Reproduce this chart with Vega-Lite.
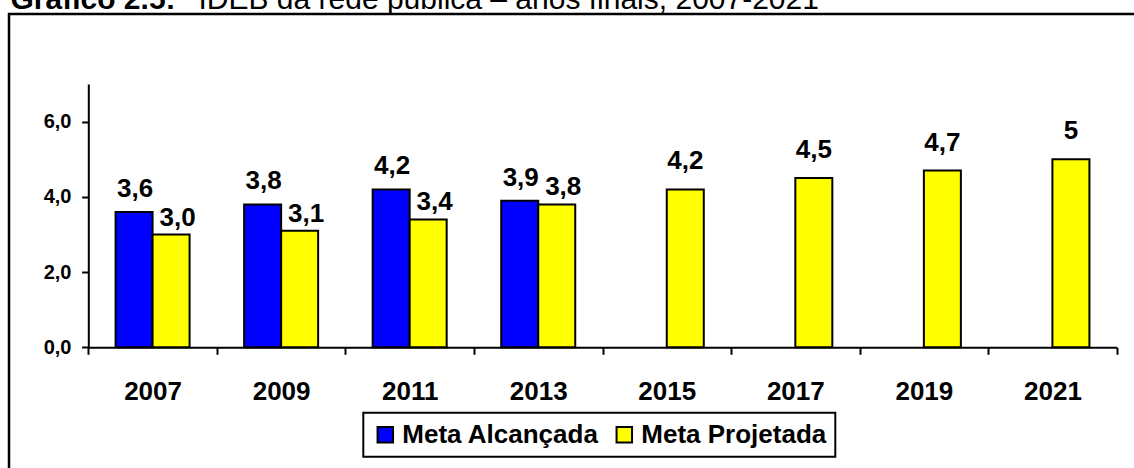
{
  "$schema": "https://vega.github.io/schema/vega-lite/v6.json",
  "width": 1135,
  "height": 464,
  "autosize": "none",
  "padding": {"left": 9, "top": 14, "right": -10, "bottom": -10},
  "background": "white",
  "config": {
    "font": "Liberation Sans",
    "view": {"stroke": "black", "strokeWidth": 2.5, "fill": "white"},
    "legend": {"strokeWidth": 2}
  },
  "data": {
    "values": [
      {"ano": "2007", "serie": "Meta Alcançada", "valor": 3.6, "rotulo": "3,6"},
      {"ano": "2007", "serie": "Meta Projetada", "valor": 3.0, "rotulo": "3,0"},
      {"ano": "2009", "serie": "Meta Alcançada", "valor": 3.8, "rotulo": "3,8"},
      {"ano": "2009", "serie": "Meta Projetada", "valor": 3.1, "rotulo": "3,1"},
      {"ano": "2011", "serie": "Meta Alcançada", "valor": 4.2, "rotulo": "4,2"},
      {"ano": "2011", "serie": "Meta Projetada", "valor": 3.4, "rotulo": "3,4"},
      {"ano": "2013", "serie": "Meta Alcançada", "valor": 3.9, "rotulo": "3,9"},
      {"ano": "2013", "serie": "Meta Projetada", "valor": 3.8, "rotulo": "3,8"},
      {"ano": "2015", "serie": "Meta Projetada", "valor": 4.2, "rotulo": "4,2"},
      {"ano": "2017", "serie": "Meta Projetada", "valor": 4.5, "rotulo": "4,5"},
      {"ano": "2019", "serie": "Meta Projetada", "valor": 4.7, "rotulo": "4,7"},
      {"ano": "2021", "serie": "Meta Projetada", "valor": 5.0, "rotulo": "5"}
    ]
  },
  "encoding": {
    "x": {
      "field": "ano",
      "type": "nominal",
      "sort": null,
      "scale": {"range": [79.3, 1107.7], "paddingInner": 0, "paddingOuter": 0},
      "axis": {
        "orient": "bottom",
        "offset": -130.7,
        "tickBand": "extent",
        "labelAngle": 0,
        "labelFontSize": 26,
        "labelFontWeight": "bold",
        "labelColor": "black",
        "labelPadding": 24,
        "tickSize": 7,
        "tickWidth": 2,
        "tickColor": "black",
        "domainColor": "black",
        "domainWidth": 2,
        "grid": false,
        "title": "IDEB da rede pública – anos finais, 2007-2021",
        "titleAngle": 0,
        "titleAlign": "left",
        "titleBaseline": "alphabetic",
        "titleX": 189,
        "titleY": -338.8,
        "titleFontSize": 30,
        "titleFontWeight": "normal",
        "titleColor": "black",
        "titleLimit": 1000
      }
    },
    "xOffset": {
      "field": "serie",
      "type": "nominal",
      "scale": {"domain": ["Meta Alcançada", "Meta Projetada"], "paddingInner": 0, "paddingOuter": 0.737}
    },
    "y": {
      "field": "valor",
      "type": "quantitative",
      "scale": {"domain": [0, 7], "range": [333.3, 70.1], "nice": false, "zero": true},
      "axis": {
        "orient": "left",
        "offset": -79.3,
        "values": [0, 2, 4, 6],
        "labelExpr": "replace(format(datum.value, '.1f'), '.', ',')",
        "labelFontSize": 20,
        "labelFontWeight": "bold",
        "labelColor": "black",
        "labelPadding": 10.6,
        "tickSize": 6.7,
        "tickWidth": 2,
        "tickColor": "black",
        "domainColor": "black",
        "domainWidth": 2,
        "grid": false,
        "title": "Gráfico 2.5:",
        "titleAngle": 0,
        "titleAlign": "left",
        "titleBaseline": "alphabetic",
        "titleX": -78.3,
        "titleY": -5.5,
        "titleFontSize": 30,
        "titleFontWeight": "bold",
        "titleColor": "black",
        "titleLimit": 1000
      }
    }
  },
  "layer": [
    {
      "mark": {"type": "bar", "stroke": "black", "strokeWidth": 2},
      "encoding": {
        "color": {
          "field": "serie",
          "type": "nominal",
          "scale": {"domain": ["Meta Alcançada", "Meta Projetada"], "range": ["#0000FF", "#FFFF00"]},
          "legend": {
            "orient": "none",
            "legendX": 354.3,
            "legendY": 398.7,
            "direction": "horizontal",
            "title": null,
            "labelFontSize": 26,
            "labelFontWeight": "bold",
            "labelColor": "black",
            "labelLimit": 400,
            "symbolType": "square",
            "symbolSize": 240,
            "symbolStrokeColor": "black",
            "symbolStrokeWidth": 2,
            "symbolOpacity": 1,
            "labelOffset": 4,
            "columnPadding": 12,
            "padding": 9,
            "strokeColor": "black"
          }
        }
      }
    },
    {
      "transform": [{"filter": "datum.serie == 'Meta Alcançada'"}],
      "mark": {"type": "text", "fontSize": 26, "fontWeight": "bold", "baseline": "alphabetic", "dy": -15, "dx": 1, "color": "black"},
      "encoding": {"text": {"field": "rotulo"}}
    },
    {
      "transform": [{"filter": "datum.serie == 'Meta Projetada' && toNumber(datum.ano) <= 2013"}],
      "mark": {"type": "text", "fontSize": 26, "fontWeight": "bold", "baseline": "alphabetic", "dy": -9, "dx": 6.5, "color": "black"},
      "encoding": {"text": {"field": "rotulo"}}
    },
    {
      "transform": [{"filter": "datum.serie == 'Meta Projetada' && toNumber(datum.ano) > 2013"}],
      "mark": {"type": "text", "fontSize": 26, "fontWeight": "bold", "baseline": "alphabetic", "dy": -20, "dx": 0, "color": "black"},
      "encoding": {"text": {"field": "rotulo"}}
    }
  ]
}
